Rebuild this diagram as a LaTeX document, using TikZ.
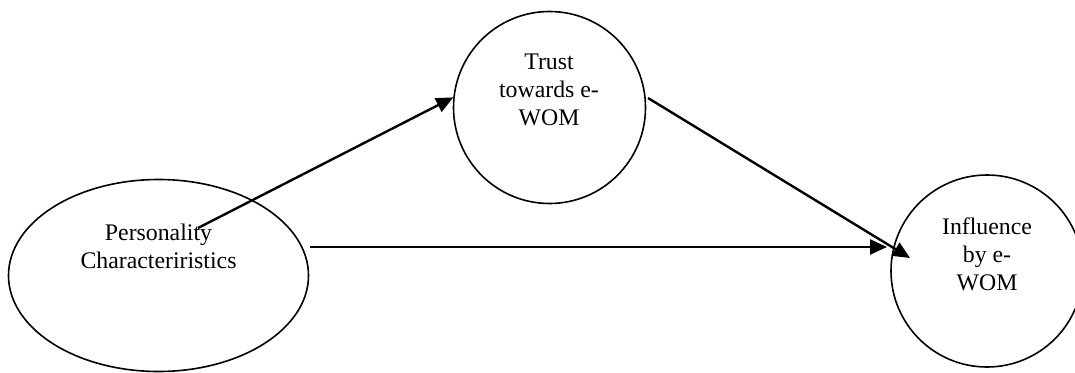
\documentclass[tikz,border=0pt]{standalone}
\usepackage{fontspec}
\setmainfont{Liberation Serif}
\usetikzlibrary{arrows.meta,shapes.geometric}
\begin{document}
\begin{tikzpicture}[x=1pt,y=-1pt,
  shapebox/.style={draw=black,line width=1.6pt,inner sep=0pt},
  lbl/.style={align=center,inner sep=0pt,font=\fontsize{23.8}{28}\selectfont},
  conn/.style={line width=2.4pt,-{Triangle[length=17pt,width=15pt]}}]
\useasboundingbox (0,0) rectangle (1075,372);
\node[shapebox,ellipse,minimum width=300pt,minimum height=192pt] (pers) at (158.5,275.5) {};
\node[shapebox,circle,minimum size=192pt] (trust) at (549.5,107.5) {};
\node[shapebox,circle,minimum size=192pt] (infl) at (987,271) {};
\node[lbl] (perst) at (158.5,246) {Personality\\Characteriristics};
\node[lbl] (trustt) at (549,89.5) {Trust\\towards e-\\WOM};
\node[lbl] (inflt) at (987,254.5) {Influence\\by e-\\WOM};
\coordinate (a1s) at (198,228);
\coordinate (a2s) at (310,247);
\coordinate (a2e) at (887,247);
\coordinate (a3s) at (648,98);
\coordinate (a3e) at (910,258);
\draw[conn] (a1s) -- (trust.174);
\draw[conn] (a2s) -- (a2e);
\draw[conn] (a3s) -- (a3e);
\end{tikzpicture}
\end{document}
